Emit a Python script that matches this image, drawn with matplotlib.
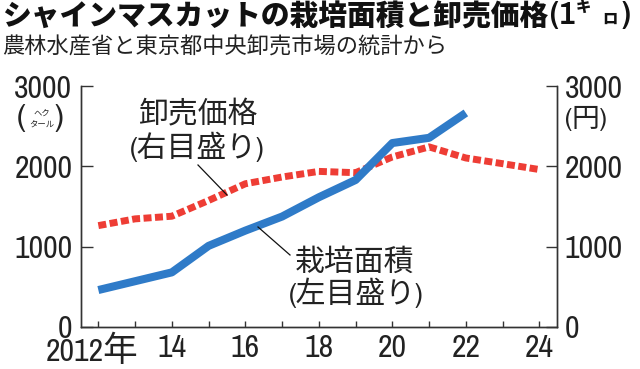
import matplotlib
matplotlib.use("Agg")
import matplotlib.pyplot as plt
from matplotlib import font_manager
from matplotlib.lines import Line2D
from matplotlib.transforms import ScaledTranslation

# ---- data ----
years = [2012, 2013, 2014, 2015, 2016, 2017, 2018, 2019, 2020, 2021, 2022, 2023, 2024]
area_years = [2012, 2013, 2014, 2015, 2016, 2017, 2018, 2019, 2020, 2021, 2022]
area_ha = [460, 570, 680, 1010, 1200, 1375, 1615, 1830, 2290, 2355, 2665]
price_yen = [1262, 1346, 1379, 1575, 1783, 1867, 1937, 1921, 2117, 2242, 2104, 2033, 1960]
yticks = [0, 1000, 2000, 3000]
xtick_pos = [2012, 2014, 2016, 2018, 2020, 2022, 2024]
xtick_labels = ["2012年", "14", "16", "18", "20", "22", "24"]
title = "シャインマスカットの栽培面積と卸売価格"
subtitle = "農林水産省と東京都中央卸売市場の統計から"

names = {f.name for f in font_manager.fontManager.ttflist}
NUM = next((n for n in ["Pragati Narrow", "Archivo Narrow", "PT Sans Narrow", "Liberation Sans"]
            if n in names), "DejaVu Sans")
JP = "Noto Sans CJK JP"
plt.rcParams["font.family"] = [NUM, JP, "DejaVu Sans"]

W, H = 640, 369
fig = plt.figure(figsize=(W / 100, H / 100), dpi=100)

def px(x, y):
    return x / W, 1 - y / H

BLUE = "#2f7bc8"
RED = "#ee3d35"
INK = "#222222"

# fit tick-label size so that "3000" is ~58 px wide
probe = fig.text(0, 0, "3000", fontsize=20, family=[NUM])
fig.canvas.draw()
rend = fig.canvas.get_renderer()
w20 = probe.get_window_extent(rend).width
TS = 20 * 58.0 / w20
probe.remove()

l, t, r, b = 80.7, 86, 557, 327
ax = fig.add_axes([l / W, 1 - b / H, (r - l) / W, (b - t) / H])
ax2 = ax.twinx()
ax.set_zorder(ax2.get_zorder() + 1)
ax.patch.set_visible(False)

ax2.plot(years, price_yen, color=RED, lw=5.0, linestyle=(0, (1.15, 0.5)),
         dash_capstyle="butt", solid_joinstyle="miter")
ax.plot(area_years, area_ha, color=BLUE, lw=5.8, solid_capstyle="butt",
        solid_joinstyle="round")

for a in (ax, ax2):
    a.set_ylim(0, 3000)
    a.set_xlim(2011.52, 2024.48)
    a.spines["top"].set_visible(False)
    for s in ("left", "right", "bottom"):
        a.spines[s].set_color("#333333")
        a.spines[s].set_linewidth(1.0)
    a.set_yticks(yticks)
    a.set_yticklabels([str(v) for v in yticks])

ax.tick_params(axis="y", direction="in", length=8.5, width=1.0, color="#333333",
               pad=6, labelsize=TS, labelcolor=INK)
ax2.tick_params(axis="y", direction="in", length=8, width=1.0, color="#333333",
                pad=5.5, labelsize=TS, labelcolor=INK)
ax.set_xticks(years, minor=True)
ax.set_xticks(xtick_pos)
ax.set_xticklabels(xtick_labels)
ax.tick_params(axis="x", which="both", direction="in", length=4.5, width=1.0,
               color="#333333", pad=5, labelsize=TS, labelcolor=INK)
ax2.tick_params(axis="x", which="both", length=0)
first = ax.xaxis.get_major_ticks()[0].label1
first.set_fontfamily([NUM, JP])
first.set_transform(first.get_transform() + ScaledTranslation(-6 / 100, 0, fig.dpi_scale_trans))

# titles
TC = "#111111"
tt = fig.text(*px(2, 2), title, fontsize=21, fontweight="black", family=[JP],
              va="top", ha="left", color=TC)
fig.canvas.draw()
tw = tt.get_window_extent(rend).width
tt.set_fontsize(21 * 546.0 / tw)
fig.text(*px(550, 1), "(", fontsize=TS, fontweight="bold", family=[NUM],
         va="top", ha="left", color=TC)
fig.text(*px(560, 1), "1", fontsize=TS, fontweight="bold", family=[NUM],
         va="top", ha="left", color=TC)
fig.text(*px(576, 0), "キ", fontsize=11, fontweight="black", family=[JP],
         va="top", ha="left", color=TC)
fig.text(*px(602, 12), "ロ", fontsize=11, fontweight="black", family=[JP],
         va="top", ha="left", color=TC)
fig.text(*px(622, 1), ")", fontsize=TS, fontweight="bold", family=[NUM],
         va="top", ha="left", color=TC)

fig.text(*px(2, 36), subtitle, fontsize=16, family=[JP], va="top", ha="left", color="#222222")

# unit labels
fig.text(*px(21.5, 118.5), "(", fontsize=TS, family=[NUM], va="center", ha="center", color=INK)
fig.text(*px(58.5, 118.5), ")", fontsize=TS, family=[NUM], va="center", ha="center", color=INK)
fig.text(*px(42, 113), "ヘク", fontsize=6, family=[JP], va="center", ha="center", color=INK)
fig.text(*px(41.5, 125), "タール", fontsize=6, family=[JP], va="center", ha="center", color=INK)
fig.text(*px(565, 118), "(円)", fontsize=20, family=[NUM, JP], va="center", ha="left", color=INK)

# annotations
for (x, y, s) in [(198, 114, "卸売価格"), (197, 147, "(右目盛り)"),
                  (355, 262, "栽培面積"), (356, 293, "(左目盛り)")]:
    fig.text(*px(x, y), s, fontsize=21.5, family=[NUM, JP], va="center", ha="center", color=INK)

for (x0, y0, x1, y1) in [(198, 165, 227, 195), (258, 227, 290, 255)]:
    p0, p1 = px(x0, y0), px(x1, y1)
    fig.add_artist(Line2D([p0[0], p1[0]], [p0[1], p1[1]], color="#111111", lw=0.9))

fig.savefig("out.png", dpi=100)
